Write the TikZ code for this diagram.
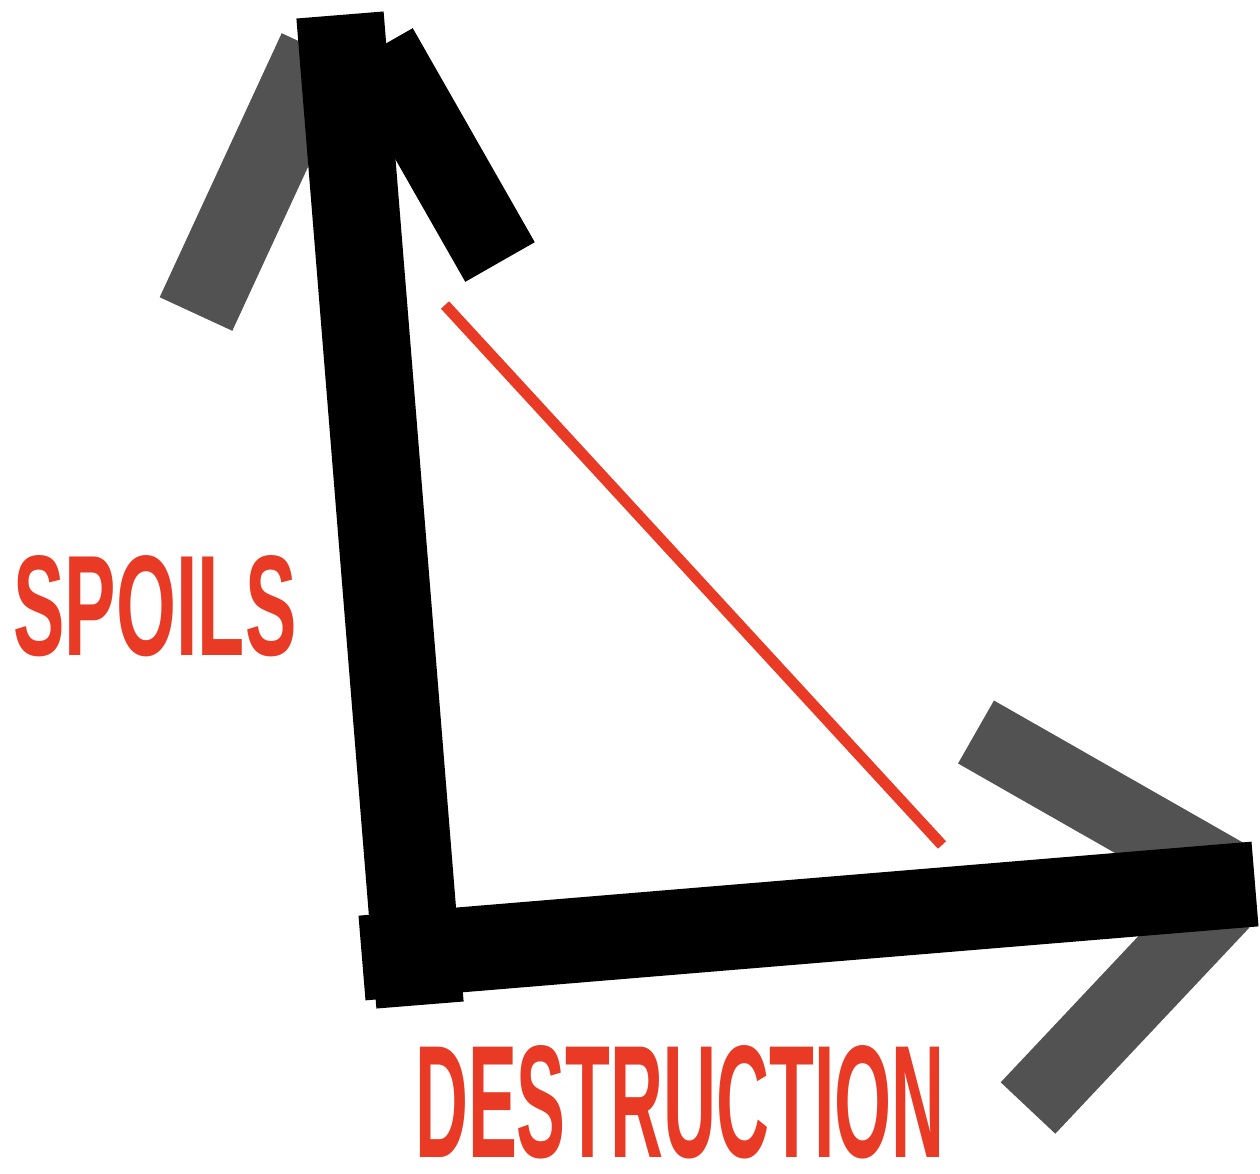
\documentclass[tikz,border=0pt]{standalone}
\usepackage{fontspec}
\usepackage{graphicx}
\newfontfamily\labelfont{Liberation Sans}
\definecolor{spoilred}{RGB}{232,58,36}
\usetikzlibrary{calc}

\begin{document}
\begin{tikzpicture}[
  x=0.02cm, y=-0.02cm,
  shaft/.style={line width=1.75cm, black, line cap=butt},
  barb/.style={line width=1.6cm, black!68, line cap=butt},
  headbarb/.style={line width=1.6cm, black, line cap=butt},
  redline/.style={line width=0.22cm, spoilred},
  axislabel/.style={inner sep=0pt, text=spoilred}
]
  \useasboundingbox (0,0) rectangle (1260,1173);

  \coordinate (corner) at (420,1005);
  \coordinate (top) at (340,15);
  \coordinate (hstart) at (362,958);
  \coordinate (tip) at (1255,884);

  \coordinate (lbarbstart) at (318,50);
  \coordinate (lbarb) at (196,314);
  \coordinate (rbarbstart) at (378,48);
  \coordinate (rbarb) at (500,262);
  \coordinate (ubarbstart) at (1232,878);
  \coordinate (ubarb) at (976,732);
  \coordinate (dbarbstart) at (1222,902);
  \coordinate (dbarb) at (1028,1108);

  \coordinate (rtop) at (445,305);
  \coordinate (rbot) at (942,845);

  \draw[barb] (lbarbstart) -- (lbarb);
  \draw[headbarb] (rbarbstart) -- (rbarb);
  \draw[barb, line width=1.45cm] (ubarbstart) -- (ubarb);
  \draw[barb, line width=1.5cm] (dbarbstart) -- (dbarb);

  \draw[shaft] (corner) -- (top);
  \draw[shaft, line width=1.7cm] (hstart) -- (tip);

  \draw[redline] (rtop) -- (rbot);

  \node[axislabel] (spoils) at (155,606)
    {\resizebox{5.66cm}{2.0cm}{\labelfont\bfseries SPOILS}};
  \node[axislabel] (destruction) at (680,1102)
    {\resizebox{10.6cm}{2.24cm}{\labelfont\bfseries DESTRUCTION}};
\end{tikzpicture}
\end{document}
